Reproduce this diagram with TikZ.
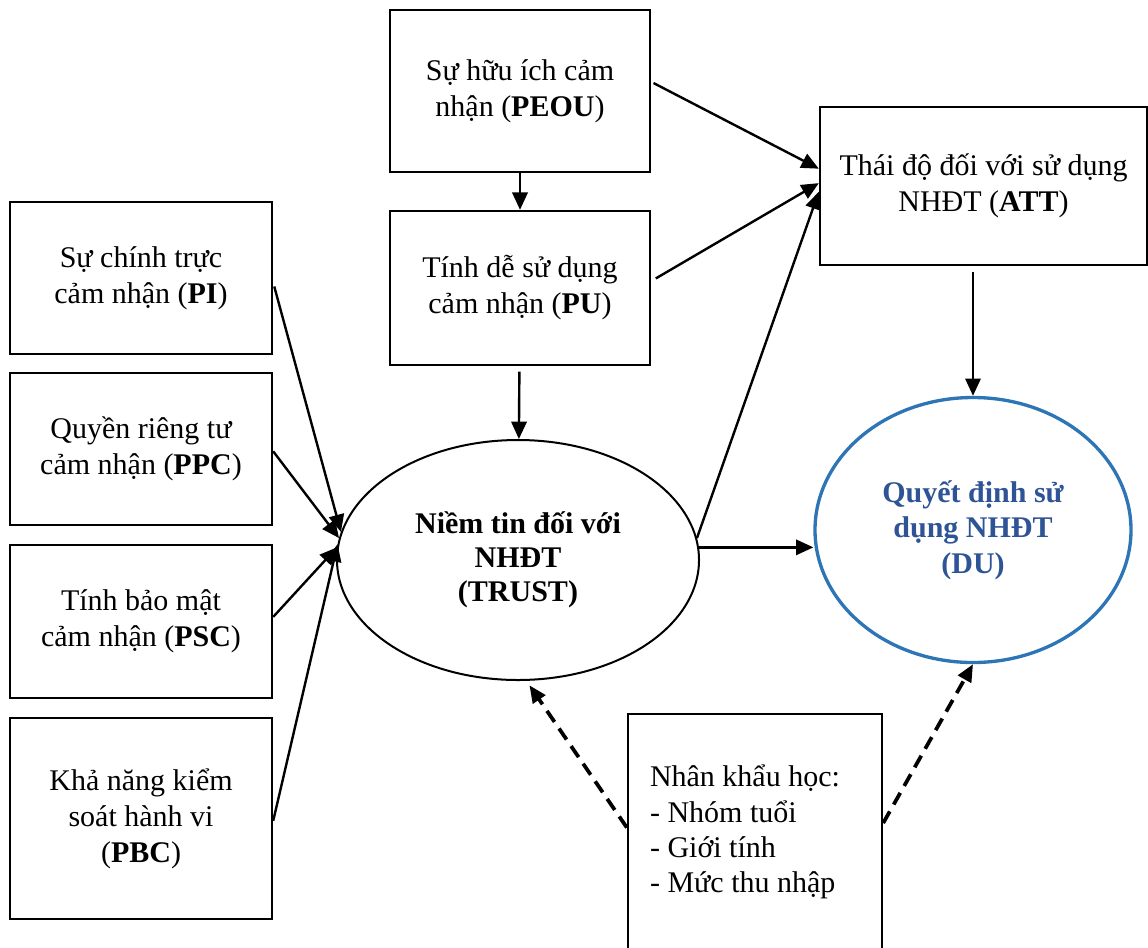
\documentclass[tikz,border=0pt]{standalone}
\usepackage{fontspec}
\setmainfont{Liberation Serif}
\usepackage{xcolor}
\usetikzlibrary{arrows.meta,shapes.geometric}
\definecolor{duline}{HTML}{2E75B6}
\definecolor{dutext}{HTML}{2F5496}

\begin{document}
\begin{tikzpicture}[x=0.75pt,y=-0.75pt,
    box/.style={draw,line width=1.8pt,inner sep=0pt,align=center,
        font=\fontsize{22.5}{27}\selectfont},
    arr/.style={line width=1.8pt,-{Triangle[length=13pt,width=11.5pt]}},
    dasharr/.style={line width=2.8pt,dash pattern=on 10pt off 6pt,
        -{Triangle[length=13pt,width=11pt]}}]
        \useasboundingbox (0,0) rectangle (1148,947);
        \clip (0,0) rectangle (1148,947);
        % Top
        \node[box,minimum width=195pt,minimum height=121.5pt] (peou) at (520,91)
            {Sự hữu ích cảm\\ nhận (\textbf{PEOU})};
        \node[box,minimum width=195pt,minimum height=115.5pt] (pu) at (520,288)
            {Tính dễ sử dụng\\ cảm nhận (\textbf{PU})};
        \node[box,minimum width=245.25pt,minimum height=118.5pt] (att) at (983.5,186)
            {Thái độ đối với sử dụng\\ NHĐT (\textbf{ATT})};
        % Left
        \node[box,minimum width=196.5pt,minimum height=114pt] (pi) at (141,278)
            {Sự chính trực\\ cảm nhận (\textbf{PI})};
        \node[box,minimum width=196.5pt,minimum height=114pt] (ppc) at (141,449)
            {Quyền riêng tư\\ cảm nhận (\textbf{PPC})};
        \node[box,minimum width=196.5pt,minimum height=114.75pt] (psc) at (141,621.5)
            {Tính bảo mật\\ cảm nhận (\textbf{PSC})};
        \node[box,minimum width=196.5pt,minimum height=150.75pt] (pbc) at (141,818.5)
            {Khả năng kiểm\\ soát hành vi\\ (\textbf{PBC})};
        % Middle and right
        \node[box,ellipse,line width=1.5pt,minimum width=271.5pt,minimum height=180pt,
            font=\fontsize{22.5}{25.5}\selectfont\bfseries] (trust) at (518,560)
            {Niềm tin đối với\\ NHĐT\\ (TRUST)};
        \node[box,ellipse,draw=duline,line width=2.5pt,text=dutext,
            minimum width=237pt,minimum height=198.75pt,
            font=\fontsize{22.5}{26.6}\selectfont\bfseries] (du) at (973,530)
            {Quyết định sử\\ dụng NHĐT\\ (DU)};
        \node[box,align=flush left,minimum width=190.5pt,minimum height=177pt,
            text width=157.5pt,font=\fontsize{22.5}{26.5}\selectfont] (demo) at (755,832)
            {Nhân khẩu học:\\ - Nhóm tuổi\\ - Giới tính\\ - Mức thu nhập};
        % Arrows
        \draw[arr] (peou) -- (pu);
        \draw[arr,shorten <=4pt] (pu) -- (trust);
        \draw[arr,shorten <=2pt] (peou.4) -- (att.174);
        \draw[arr,shorten <=4pt] (pu.3) -- (att.179);
        \draw[arr] (trust.7) -- (att.182);
        \draw[arr] (trust.4) -- (trust.4 -| du.west);
        \draw[arr,shorten <=4pt] (du.north |- att.south) -- (du.north);
        \draw[arr,shorten <=3pt] (pi.-2) -- (trust.171);
        \draw[arr] (ppc.-1) -- (trust.173);
        \draw[arr] (psc.2) -- (trust.176);
        \draw[arr] (pbc.-1.5) -- (trust.175);
        \draw[dasharr,shorten >=4pt] (demo.178) -- (trust.-86);
        \draw[dasharr] (demo.4) -- (du.south);
\end{tikzpicture}
\end{document}
